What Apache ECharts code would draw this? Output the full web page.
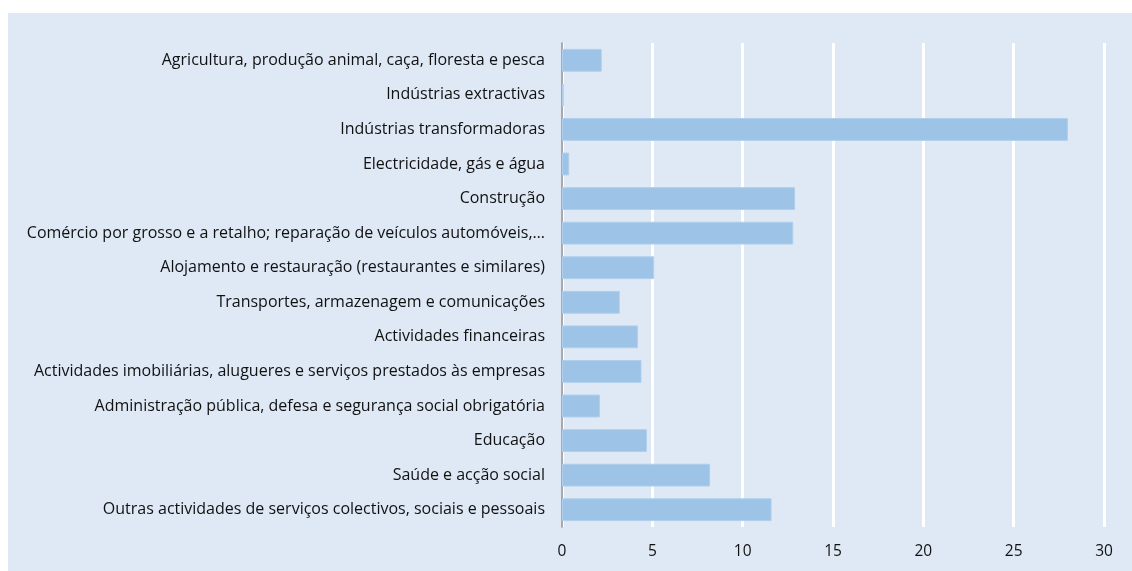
<!DOCTYPE html>
<html>
<head>
<meta charset="utf-8">
<script src="https://cdn.jsdelivr.net/npm/echarts@6/dist/echarts.min.js"></script>
<style>
  html, body { margin: 0; padding: 0; background: #fff; }
  #chart { position: absolute; left: 8px; top: 13px; width: 1124px; height: 558px; }
</style>
</head>
<body>
<div id="chart"></div>
<script>
// sectores de actividade
var categories = [
  'Agricultura, produção animal, caça, floresta e pesca',
  'Indústrias extractivas',
  'Indústrias transformadoras',
  'Electricidade, gás e água',
  'Construção',
  'Comércio por grosso e a retalho; reparação de veículos automóveis,…',
  'Alojamento e restauração (restaurantes e similares)',
  'Transportes, armazenagem e comunicações',
  'Actividades financeiras',
  'Actividades imobiliárias, alugueres e serviços prestados às empresas',
  'Administração pública, defesa e segurança social obrigatória',
  'Educação',
  'Saúde e acção social',
  'Outras actividades de serviços colectivos, sociais e pessoais'
]
var values = [2.2, 0.1, 28.0, 0.4, 12.9, 12.8, 5.1, 3.2, 4.2, 4.4, 2.1, 4.7, 8.2, 11.6]
var xTicks = [0, 5, 10, 15, 20, 25, 30]

var chart = echarts.init(document.getElementById('chart'))
var option = {
  backgroundColor: '#dee9f5',
  animation: false,
  textStyle: { fontFamily: 'Open Sans' },
  grid: {
    left: 554,
    right: 28,
    top: 30,
    bottom: 44
  },
  xAxis: {
    type: 'value',
    min: xTicks[0],
    max: xTicks[xTicks.length - 1],
    interval: 5,
    axisLine: { show: false },
    axisTick: { show: false },
    axisLabel: { color: '#111', fontSize: 15.5, margin: 17 },
    splitLine: { show: true, lineStyle: { color: '#ffffff', width: 3 } }
  },
  yAxis: {
    type: 'category',
    inverse: true,
    data: categories,
    axisLine: { show: true, lineStyle: { color: '#8c8c8c', width: 1.5 } },
    axisTick: { show: false },
    axisLabel: { color: '#111', fontSize: 16, margin: 17 }
  },
  series: [
    {
      type: 'bar',
      data: values,
      barWidth: '66%',
      itemStyle: { color: '#9dc3e6', borderColor: '#b0cfec', borderWidth: 1 }
    }
  ]
}
chart.setOption(option)
</script>
</body>
</html>
